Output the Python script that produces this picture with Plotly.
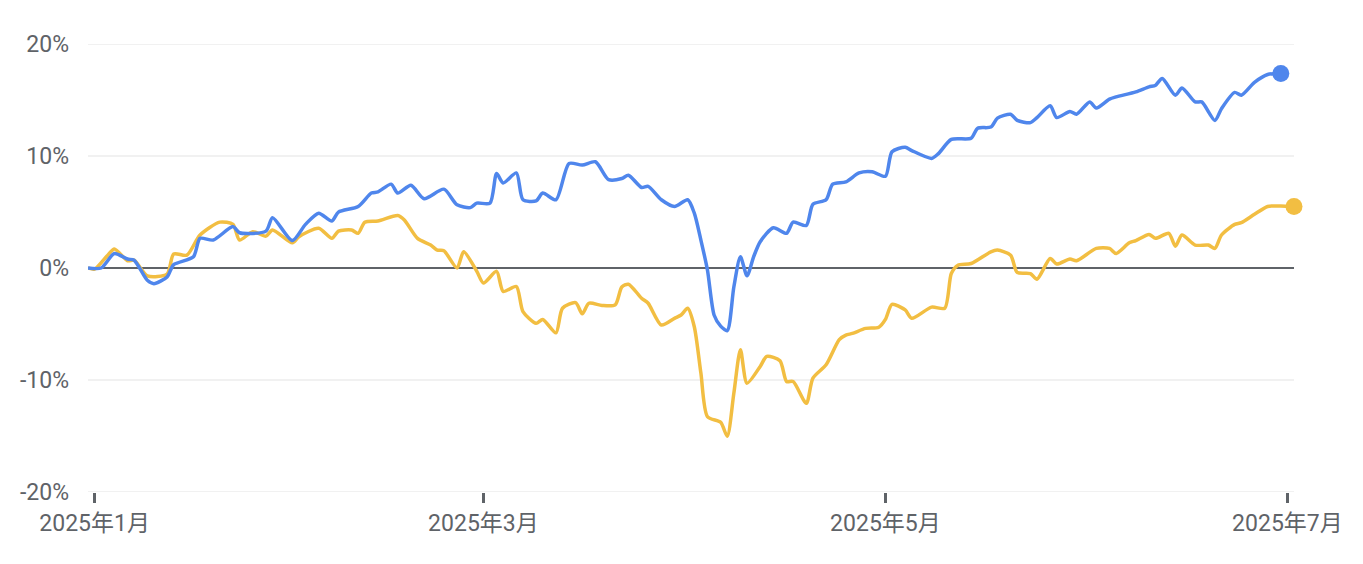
import plotly.graph_objects as go

# ---- data (percent change since 2024-12-31) ----
blue_dates = [
    "2024-12-31", "2025-01-02", "2025-01-04", "2025-01-06", "2025-01-07", "2025-01-09", "2025-01-10",
    "2025-01-12", "2025-01-13", "2025-01-16", "2025-01-17", "2025-01-19", "2025-01-22", "2025-01-23",
    "2025-01-27", "2025-01-28", "2025-01-31", "2025-02-02", "2025-02-04", "2025-02-06", "2025-02-07",
    "2025-02-10", "2025-02-12", "2025-02-13", "2025-02-15", "2025-02-16", "2025-02-18", "2025-02-20",
    "2025-02-23", "2025-02-25", "2025-02-27", "2025-02-28", "2025-03-02", "2025-03-03", "2025-03-04",
    "2025-03-06", "2025-03-07", "2025-03-09", "2025-03-10", "2025-03-12", "2025-03-14", "2025-03-16",
    "2025-03-18", "2025-03-20", "2025-03-22", "2025-03-23", "2025-03-25", "2025-03-26", "2025-03-28",
    "2025-03-30", "2025-04-01", "2025-04-02", "2025-04-03", "2025-04-04", "2025-04-05", "2025-04-06",
    "2025-04-07", "2025-04-08", "2025-04-09", "2025-04-10", "2025-04-11", "2025-04-12", "2025-04-14",
    "2025-04-16", "2025-04-17", "2025-04-19", "2025-04-20", "2025-04-22", "2025-04-23", "2025-04-25",
    "2025-04-27", "2025-04-29", "2025-05-01", "2025-05-02", "2025-05-04", "2025-05-05", "2025-05-08",
    "2025-05-09", "2025-05-11", "2025-05-14", "2025-05-15", "2025-05-17", "2025-05-18", "2025-05-20",
    "2025-05-21", "2025-05-23", "2025-05-24", "2025-05-26", "2025-05-27", "2025-05-29", "2025-05-30",
    "2025-06-01", "2025-06-02", "2025-06-04", "2025-06-05", "2025-06-08", "2025-06-10", "2025-06-11",
    "2025-06-12", "2025-06-14", "2025-06-15", "2025-06-17", "2025-06-18", "2025-06-20", "2025-06-21",
    "2025-06-23", "2025-06-24", "2025-06-26", "2025-06-28", "2025-06-30",
]
blue_values = [
    0.0, 0.0, 1.3, 0.8, 0.7, -1.1, -1.4,
    -0.8, 0.3, 1.0, 2.65, 2.5, 3.7, 3.15,
    3.3, 4.5, 2.45, 3.9, 4.9, 4.2, 5.0,
    5.5, 6.7, 6.8, 7.5, 6.7, 7.4, 6.2,
    7.05, 5.65, 5.4, 5.8, 5.8, 8.45, 7.6,
    8.5, 6.1, 6.0, 6.7, 6.1, 9.35, 9.2,
    9.5, 7.9, 8.0, 8.3, 7.2, 7.3, 6.1,
    5.5, 6.1, 4.9, 2.5, -0.2, -4.2, -5.2,
    -5.6, -1.7, 1.0, -0.7, 1.0, 2.35, 3.6,
    3.1, 4.1, 3.8, 5.7, 6.1, 7.5, 7.7,
    8.5, 8.6, 8.2, 10.4, 10.8, 10.5, 9.8,
    10.2, 11.5, 11.6, 12.5, 12.6, 13.4, 13.75,
    13.2, 13.0, 13.45, 14.5, 13.45, 14.0, 13.75,
    14.85, 14.3, 15.1, 15.3, 15.75, 16.2, 16.35,
    16.95, 15.45, 16.1, 14.85, 14.85, 13.2, 14.25,
    15.7, 15.45, 16.6, 17.3, 17.4,
]

yellow_dates = [
    "2024-12-31", "2025-01-01", "2025-01-03", "2025-01-04", "2025-01-06", "2025-01-07", "2025-01-09",
    "2025-01-12", "2025-01-13", "2025-01-15", "2025-01-17", "2025-01-20", "2025-01-22", "2025-01-23",
    "2025-01-25", "2025-01-27", "2025-01-28", "2025-01-31", "2025-02-01", "2025-02-04", "2025-02-06",
    "2025-02-07", "2025-02-09", "2025-02-10", "2025-02-11", "2025-02-13", "2025-02-16", "2025-02-17",
    "2025-02-19", "2025-02-21", "2025-02-22", "2025-02-23", "2025-02-25", "2025-02-26", "2025-02-28",
    "2025-03-01", "2025-03-03", "2025-03-04", "2025-03-06", "2025-03-07", "2025-03-09", "2025-03-10",
    "2025-03-12", "2025-03-13", "2025-03-15", "2025-03-16", "2025-03-17", "2025-03-19", "2025-03-21",
    "2025-03-22", "2025-03-23", "2025-03-25", "2025-03-26", "2025-03-28", "2025-03-30", "2025-03-31",
    "2025-04-01", "2025-04-02", "2025-04-03", "2025-04-04", "2025-04-06", "2025-04-07", "2025-04-08",
    "2025-04-09", "2025-04-10", "2025-04-12", "2025-04-13", "2025-04-15", "2025-04-16", "2025-04-17",
    "2025-04-19", "2025-04-20", "2025-04-22", "2025-04-24", "2025-04-25", "2025-04-26", "2025-04-28",
    "2025-04-30", "2025-05-01", "2025-05-02", "2025-05-04", "2025-05-05", "2025-05-08", "2025-05-10",
    "2025-05-11", "2025-05-12", "2025-05-14", "2025-05-17", "2025-05-18", "2025-05-20", "2025-05-21",
    "2025-05-23", "2025-05-24", "2025-05-26", "2025-05-27", "2025-05-29", "2025-05-30", "2025-06-02",
    "2025-06-04", "2025-06-05", "2025-06-07", "2025-06-08", "2025-06-10", "2025-06-11", "2025-06-13",
    "2025-06-14", "2025-06-15", "2025-06-17", "2025-06-19", "2025-06-20", "2025-06-21", "2025-06-23",
    "2025-06-24", "2025-06-26", "2025-06-28", "2025-06-30", "2025-07-02",
]
yellow_values = [
    0.0, -0.1, 1.15, 1.7, 0.65, 0.7, -0.7,
    -0.55, 1.25, 1.15, 2.95, 4.1, 3.9, 2.5,
    3.25, 2.85, 3.4, 2.25, 2.8, 3.55, 2.65,
    3.3, 3.4, 3.1, 4.1, 4.2, 4.7, 4.3,
    2.65, 2.05, 1.6, 1.55, 0.0, 1.45, -0.3,
    -1.35, -0.3, -2.1, -1.65, -3.9, -4.95, -4.6,
    -5.8, -3.6, -3.1, -4.1, -3.15, -3.35, -3.3,
    -1.7, -1.45, -2.7, -3.15, -5.1, -4.5, -4.2,
    -3.6, -5.25, -9.4, -13.3, -13.8, -15.05, -11.2,
    -7.3, -10.3, -8.8, -7.9, -8.3, -10.15, -10.15,
    -12.1, -9.85, -8.65, -6.4, -6.0, -5.85, -5.4,
    -5.3, -4.6, -3.25, -3.75, -4.5, -3.5, -3.6,
    -0.5, 0.25, 0.4, 1.45, 1.6, 1.15, -0.4,
    -0.5, -1.0, 0.85, 0.35, 0.8, 0.65, 1.75,
    1.75, 1.3, 2.25, 2.45, 3.0, 2.65, 3.1,
    1.95, 2.95, 2.05, 2.05, 1.75, 2.95, 3.9,
    4.05, 4.8, 5.5, 5.55, 5.5,
]

x_tick_dates = ["2025-01-01", "2025-03-01", "2025-05-01", "2025-07-01"]
x_tick_labels = ["2025年1月", "2025年3月", "2025年5月", "2025年7月"]
y_tick_values = [-20, -10, 0, 10, 20]
y_tick_labels = ["-20%", "-10%", "0%", "10%", "20%"]

BLUE = "#4f86ec"
YELLOW = "#f2be42"
GRAY = "#5f6368"
GRID = "#f1f1f1"
FONT = "Roboto, 'Noto Sans CJK SC', sans-serif"

fig = go.Figure()
for dates, vals, col in [(yellow_dates, yellow_values, YELLOW), (blue_dates, blue_values, BLUE)]:
    fig.add_trace(go.Scatter(
        x=dates, y=vals, mode="lines",
        line=dict(color=col, width=3.5, shape="spline", smoothing=0.7),
        hoverinfo="skip", cliponaxis=False,
    ))
    fig.add_trace(go.Scatter(
        x=[dates[-1]], y=[vals[-1]], mode="markers",
        marker=dict(color=col, size=17, line=dict(width=0)),
        hoverinfo="skip", cliponaxis=False,
    ))

# edge gridlines (top/bottom tick values), drawn beneath the data
for v in (y_tick_values[0], y_tick_values[-1]):
    fig.add_shape(type="line", xref="paper", x0=0, x1=1, yref="y", y0=v, y1=v,
                  line=dict(color=GRID, width=1.5), layer="below")

# page body has an 8px margin: figure is shifted by 8px, so margins compensate
fig.update_layout(
    width=1347, height=548,
    margin=dict(l=80, r=57, t=36, b=64),
    paper_bgcolor="white", plot_bgcolor="white",
    showlegend=False,
    font=dict(family=FONT, size=23, color=GRAY),
    xaxis=dict(
        type="date",
        range=["2024-12-31", "2025-07-02"],
        tickvals=x_tick_dates, ticktext=x_tick_labels,
        showgrid=False, zeroline=False, showline=False,
        ticks="outside", ticklen=10, tickwidth=3, tickcolor=GRAY,
        tickfont=dict(family=FONT, size=23, color=GRAY),
        fixedrange=True,
    ),
    yaxis=dict(
        range=[-20.03, 20.03],
        tickvals=y_tick_values, ticktext=y_tick_labels,
        showgrid=True, gridcolor=GRID, gridwidth=1.5,
        zeroline=True, zerolinecolor=GRAY, zerolinewidth=1.5,
        showline=False, ticks="",
        ticklabelstandoff=18,
        tickfont=dict(family=FONT, size=23, color=GRAY),
        fixedrange=True,
    ),
)

fig.write_html("out.html")
